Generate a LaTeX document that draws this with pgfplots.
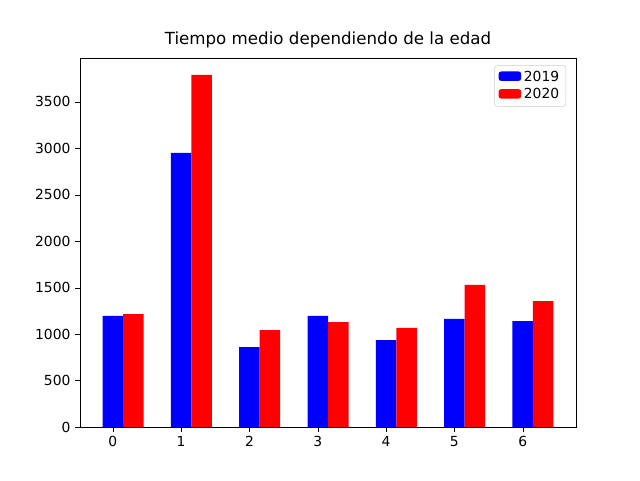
\documentclass[border=0pt]{standalone}
\usepackage{pgfplots}
\pgfplotsset{compat=1.18}
\usepackage{fontspec}
\setmainfont{DejaVu Sans}
\begin{document}
\fontsize{10.4bp}{12bp}\selectfont
\begin{tikzpicture}[x=1bp,y=1bp]
\path[use as bounding box] (0,0) rectangle (480,360);
\begin{axis}[at={(60bp,39.75bp)},anchor=south west,
 scale only axis, width=372bp, height=276.75bp,
 xmin=-0.48, xmax=6.78, ymin=0, ymax=3972,
 xtick={0,...,6}, ytick={0,500,...,3500},
 tick align=outside, tick style={black, major tick length=3.5bp},
 xtick pos=bottom, ytick pos=left,
 /pgf/number format/assume math mode=true,
 /pgf/number format/1000 sep={},
 ticklabel style={font=\fontsize{10.4bp}{12bp}\selectfont},
 title={Tiempo medio dependiendo de la edad},
 title style={font=\fontsize{12.5bp}{14bp}\selectfont, yshift=-2bp},
 ybar, bar width=0.3, bar shift=0pt,
 legend style={at={(0.98,0.98)},anchor=north east, draw=black!20, rounded corners=2pt, font=\fontsize{10.4bp}{12bp}\selectfont, legend cell align=left},
 legend image code/.code={\fill[#1] (0cm,-0.1cm) rectangle (0.6cm,0.15cm);},
]
\addplot[fill=blue, draw=none] coordinates {(0,1195) (1,2950) (2,861) (3,1195) (4,936) (5,1163) (6,1141)};
\addplot[fill=red, draw=none] coordinates {(0.3,1216) (1.3,3790) (2.3,1044) (3.3,1130) (4.3,1066) (5.3,1529) (6.3,1356)};
\legend{2019,2020}
\end{axis}
\end{tikzpicture}
\end{document}
